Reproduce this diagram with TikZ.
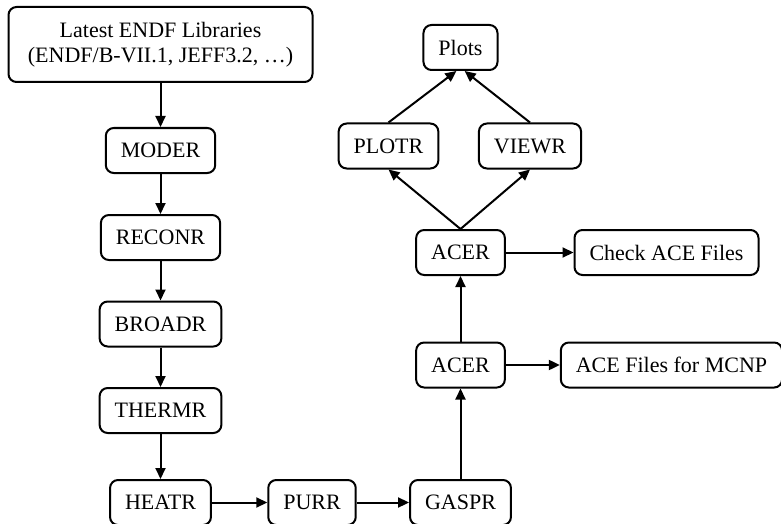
\documentclass[tikz,border=0pt]{standalone}
\usepackage{fontspec}
\setmainfont{Liberation Serif}
\usetikzlibrary{arrows.meta}

\begin{document}
\begin{tikzpicture}[x=0.5pt,y=-0.5pt,
  box/.style={draw,line width=1pt,rounded corners=4pt,inner xsep=7.5pt,
    minimum height=22.5pt,font=\fontsize{11}{12.5}\selectfont},
  >={Triangle[length=5.5pt,width=5pt]},
  every path/.style={line width=1pt}]
\useasboundingbox (0,0) rectangle (781,524);

% Left column
\node[box,align=center,minimum width=152pt,minimum height=37.5pt] (src) at (160.5,44.5)
  {Latest ENDF Libraries\\(ENDF/B-VII.1, JEFF3.2, …)};
\node[box] (moder) at (160.5,150.5) {MODER};
\node[box] (reconr) at (160.5,237.5) {RECONR};
\node[box] (broadr) at (160.5,324) {BROADR};
\node[box] (thermr) at (160.5,410.5) {THERMR};
\node[box] (heatr) at (160.5,502.5) {HEATR};

% Bottom row
\node[box] (purr) at (312,502.5) {PURR};
\node[box] (gaspr) at (460.5,502.5) {GASPR};

% Right column
\node[box] (acerA) at (460.5,365) {ACER};
\node[box] (acerB) at (460.5,252.5) {ACER};
\node[box] (mcnp) at (671.5,365) {ACE Files for MCNP};
\node[box] (check) at (666.5,252.5) {Check ACE Files};
\node[box] (plotr) at (388.5,146) {PLOTR};
\node[box] (viewr) at (530,146) {VIEWR};
\node[box] (plots) at (460.5,47.5) {Plots};

% Arrows
\draw[->] (src) -- (moder);
\draw[->] (moder) -- (reconr);
\draw[->] (reconr) -- (broadr);
\draw[->] (broadr) -- (thermr);
\draw[->] (thermr) -- (heatr);
\draw[->] (heatr) -- (purr);
\draw[->] (purr) -- (gaspr);
\draw[->] (gaspr) -- (acerA);
\draw[->] (acerA) -- (acerB);
\draw[->] (acerA) -- (mcnp);
\draw[->] (acerB) -- (check);
\draw[->] (acerB.north) -- (plotr.south);
\draw[->] (acerB.north) -- (viewr.south);
\draw[->] (plotr.north) -- (plots.-100);
\draw[->] (viewr.north) -- (plots.-80);
\end{tikzpicture}
\end{document}
